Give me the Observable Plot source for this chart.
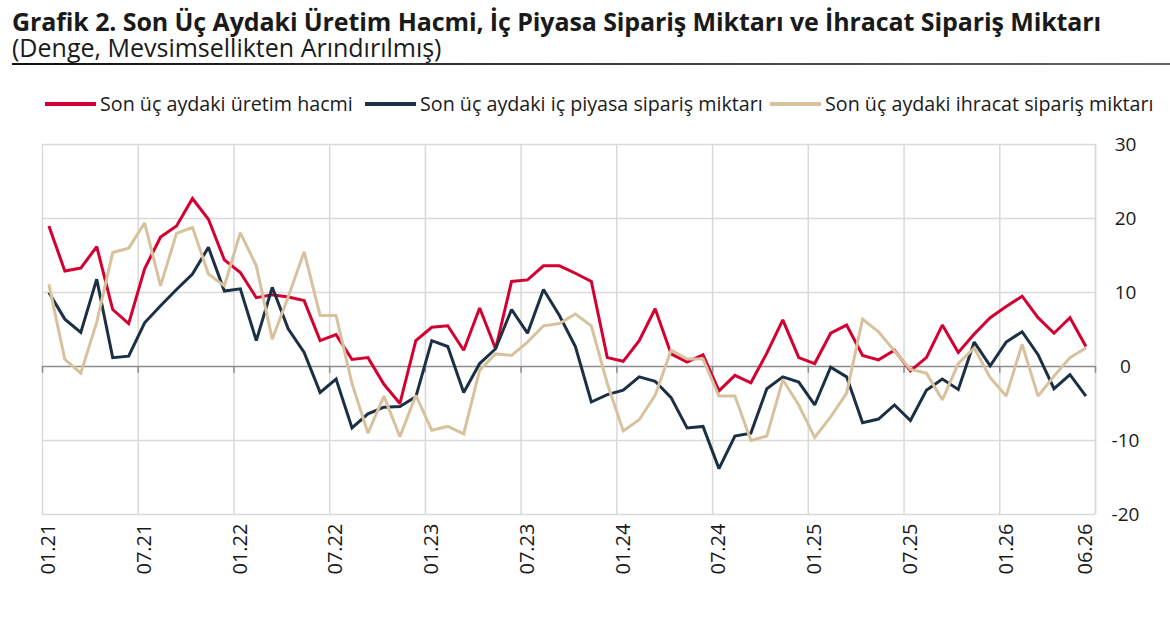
<!DOCTYPE html>
<html>
<head>
<meta charset="utf-8">
<script src="https://cdn.jsdelivr.net/npm/d3@7"></script>
<script src="https://cdn.jsdelivr.net/npm/@observablehq/plot@0.6"></script>
<style>
  html, body { margin: 0; padding: 0; background: #fff; }
  #wrap { position: relative; width: 1170px; height: 621px; font-family: "Open Sans", sans-serif; color: #1a1a1a; overflow: hidden; }
  #header { position: relative; height: 128px; }
  #title { position: absolute; left: 12px; top: 8px; font-size: 25px; line-height: 26px; font-weight: 700; white-space: nowrap; letter-spacing: -0.1px; }
  #subtitle { position: absolute; left: 12px; top: 34px; font-size: 25px; line-height: 26px; font-weight: 400; white-space: nowrap; }
  #rule { position: absolute; left: 12px; right: 0; top: 63px; height: 2px; background: linear-gradient(to right, #111, #666); }
  .item { position: absolute; top: 90px; display: flex; align-items: center; font-size: 19.7px; white-space: nowrap; }
  .sw { width: 51px; height: 4px; margin-right: 4px; }
  #chart svg { display: block; }
</style>
</head>
<body>
<div id="wrap">
  <div id="header">
    <div id="title"></div>
    <div id="subtitle"></div>
    <div id="rule"></div>
    <div id="legend"></div>
  </div>
  <div id="chart"></div>
</div>
<script>
const titleText = "Grafik 2. Son Üç Aydaki Üretim Hacmi, İç Piyasa Sipariş Miktarı ve İhracat Sipariş Miktarı";
const subtitleText = "(Denge, Mevsimsellikten Arındırılmış)";

const seriesNames = [
  "Son üç aydaki üretim hacmi",
  "Son üç aydaki iç piyasa sipariş miktarı",
  "Son üç aydaki ihracat sipariş miktarı"
];
const seriesColors = ["#D50032", "#1C3045", "#D7C29D"];
const legendLefts = [45, 365, 770];

// Monthly categories 01.21 ... 06.26
const months = [];
for (let y = 21; y <= 26; y++) {
  for (let m = 1; m <= 12; m++) {
    if (y === 26 && m > 6) break;
    months.push(String(m).padStart(2, "0") + "." + y);
  }
}

const tickLabels = ["01.21","07.21","01.22","07.22","01.23","07.23","01.24","07.24","01.25","07.25","01.26","06.26"];
const yTicks = [-20, -10, 0, 10, 20, 30];

const uretim = [
  19.0, 12.9, 13.3, 16.2, 7.7, 5.8, 13.2, 17.5, 19.0, 22.7, 19.9, 14.4,
  12.7, 9.3, 9.7, 9.4, 8.9, 3.5, 4.3, 0.95, 1.2, -2.4, -5.0, 3.5,
  5.3, 5.5, 2.2, 7.9, 2.4, 11.5, 11.7, 13.6, 13.6, 12.6, 11.5, 1.2,
  0.7, 3.5, 7.8, 1.7, 0.6, 1.6, -3.3, -1.2, -2.2, 1.8, 6.3, 1.2,
  0.4, 4.5, 5.6, 1.5, 0.9, 2.2, -0.6, 1.2, 5.6, 1.9, 4.4, 6.6,
  8.1, 9.5, 6.6, 4.5, 6.6, 2.7
];
const icPiyasa = [
  10.0, 6.4, 4.6, 11.8, 1.2, 1.4, 5.9, 8.2, 10.4, 12.5, 16.1, 10.2,
  10.5, 3.5, 10.7, 5.1, 1.9, -3.5, -1.7, -8.3, -6.4, -5.5, -5.4, -4.1,
  3.5, 2.7, -3.5, 0.4, 2.4, 7.7, 4.5, 10.4, 6.9, 2.7, -4.8, -3.8,
  -3.2, -1.4, -2.0, -4.2, -8.3, -8.1, -13.8, -9.4, -9.0, -3.0, -1.4, -2.1,
  -5.2, -0.1, -1.4, -7.6, -7.1, -5.2, -7.3, -3.2, -1.7, -3.1, 3.3, 0.1,
  3.3, 4.7, 1.6, -3.0, -1.1, -4.0
];
const ihracat = [
  11.1, 0.95, -0.9, 6.0, 15.4, 16.0, 19.4, 10.9, 18.0, 18.8, 12.5, 10.9,
  18.1, 13.6, 3.7, 9.4, 15.5, 6.9, 6.9, -2.3, -9.0, -4.0, -9.5, -3.9,
  -8.6, -8.1, -9.1, -0.5, 1.7, 1.5, 3.3, 5.5, 5.8, 7.1, 5.5, -2.3,
  -8.7, -7.2, -3.9, 2.2, 1.0, 1.0, -4.0, -4.0, -10.0, -9.4, -1.8, -5.2,
  -9.6, -6.8, -3.6, 6.4, 4.7, 2.1, -0.4, -0.9, -4.5, 0.4, 2.5, -1.5,
  -4.0, 3.0, -4.0, -1.3, 1.2, 2.5
];

document.getElementById("title").textContent = titleText;
document.getElementById("subtitle").textContent = subtitleText;
const legend = document.getElementById("legend");
seriesNames.forEach((n, k) => {
  const it = document.createElement("div");
  it.className = "item";
  it.style.left = legendLefts[k] + "px";
  const sw = document.createElement("div");
  sw.className = "sw";
  sw.style.background = seriesColors[k];
  const tx = document.createElement("span");
  tx.textContent = n;
  it.appendChild(sw); it.appendChild(tx);
  legend.appendChild(it);
});

const allSeries = [uretim, icPiyasa, ihracat];
const data = [];
allSeries.forEach((arr, k) => arr.forEach((v, i) => data.push({i, v, s: seriesNames[k]})));

const tickIdx = tickLabels.map(l => months.indexOf(l));
// category boundaries every 6 months (Excel "between tick marks")
const off = -0.4;
const gridX = d3.range(0, months.length + 1, 6).map(i => i + off).concat([months.length + off]);

const plot = Plot.plot({
  width: 1170,
  height: 493,
  marginLeft: 42,
  marginRight: 75,
  marginTop: 16,
  marginBottom: 107,
  style: { fontFamily: "Open Sans, sans-serif", color: "#1a1a1a", background: "transparent" },
  x: { type: "linear", domain: [off, months.length + off], axis: null },
  y: { type: "linear", domain: [-20, 30], axis: null },
  color: { domain: seriesNames, range: seriesColors },
  marks: [
    Plot.ruleY(yTicks.filter(t => t !== 0), { stroke: "#d9d9d9", strokeWidth: 1.5 }),
    Plot.ruleX(gridX, { stroke: "#d9d9d9", strokeWidth: 1.5 }),
    Plot.ruleX(gridX.slice(0, -1), { y1: 0, y2: -0.9, stroke: "#8c8c8c", strokeWidth: 1.5 }),
    Plot.ruleY([0], { stroke: "#8c8c8c", strokeWidth: 1.5 }),
    Plot.line(data, { x: "i", y: "v", z: "s", stroke: "s", strokeWidth: 3, strokeLinejoin: "miter", strokeMiterlimit: 2, strokeLinecap: "butt" }),
    Plot.axisY({ anchor: "right", ticks: yTicks, tickSize: 0, tickPadding: 0, dx: 30, textAnchor: "middle", fontSize: 19, tickFormat: d => String(d), label: null }),
    Plot.axisX({ ticks: tickIdx, tickFormat: i => months[i], tickRotate: -90, tickSize: 0, tickPadding: 9, fontSize: 20, label: null, anchor: "bottom" })
  ]
});
document.getElementById("chart").appendChild(plot);
</script>
</body>
</html>
